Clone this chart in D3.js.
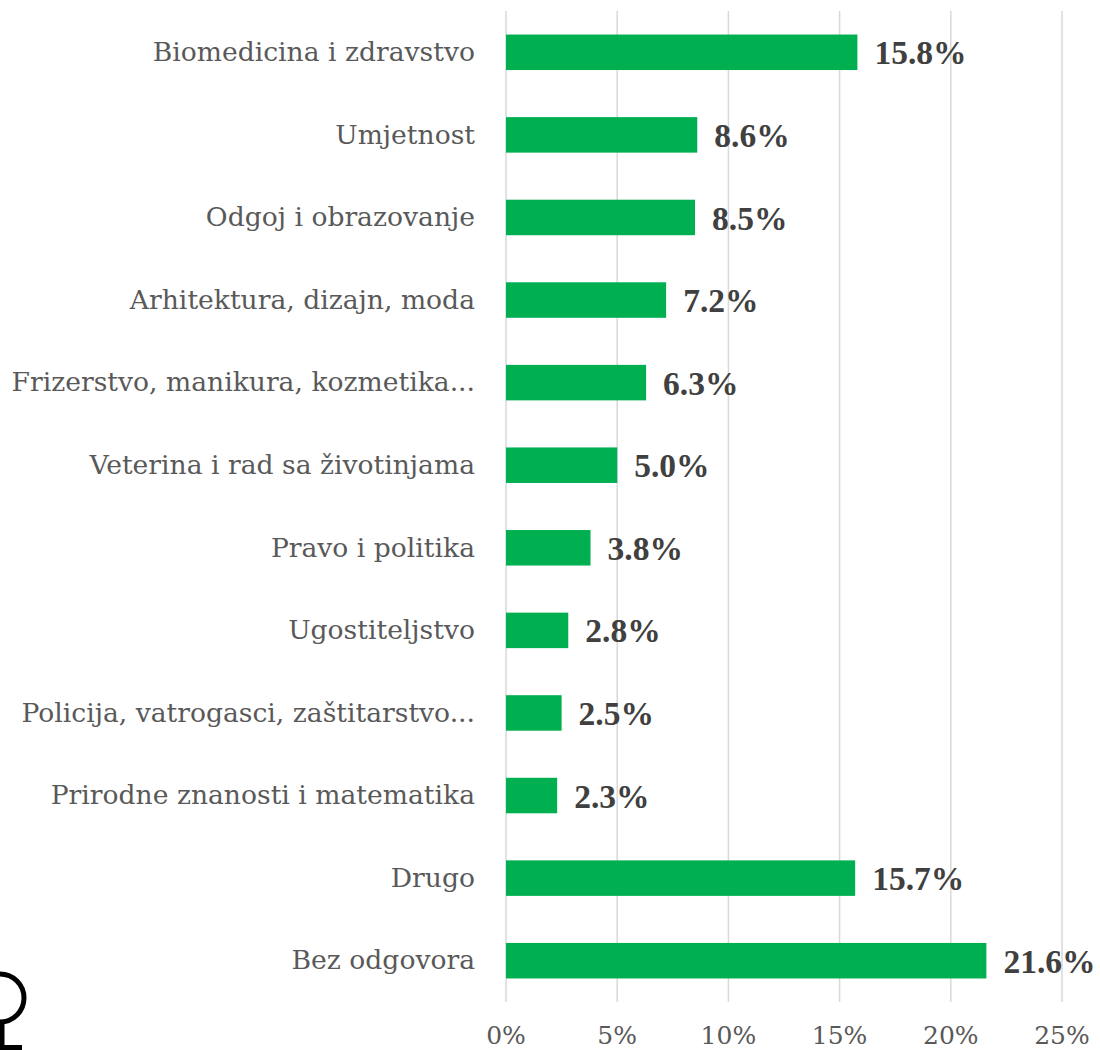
<!DOCTYPE html>
<html>
<head>
<meta charset="utf-8">
<script src="https://cdn.jsdelivr.net/npm/d3@7"></script>
<style>
  body { margin: 0; background: #fff; }
  .cat-label { font-family: "DejaVu Serif", serif; font-size: 26.6px; fill: #595959; }
  .val-label { font-family: "Liberation Serif", serif; font-size: 33.5px; font-weight: bold; fill: #404040; }
  .tick-label { font-family: "DejaVu Serif", serif; font-size: 25px; fill: #595959; }
</style>
</head>
<body>
<div class="chart"></div>
<script>
// chart data
var categories = [
  "Biomedicina i zdravstvo",
  "Umjetnost",
  "Odgoj i obrazovanje",
  "Arhitektura, dizajn, moda",
  "Frizerstvo, manikura, kozmetika...",
  "Veterina i rad sa životinjama",
  "Pravo i politika",
  "Ugostiteljstvo",
  "Policija, vatrogasci, zaštitarstvo...",
  "Prirodne znanosti i matematika",
  "Drugo",
  "Bez odgovora"
];
var values = [15.8, 8.6, 8.5, 7.2, 6.3, 5.0, 3.8, 2.8, 2.5, 2.3, 15.7, 21.6];
var tickValues = [0, 5, 10, 15, 20, 25];

var svgWidth = 1100;
var svgHeight = 1050;

var svg = d3.select(".chart")
  .append("svg")
  .attr("width", svgWidth)
  .attr("height", svgHeight);

// scales
var xScale = d3.scaleLinear().domain([0, 25]).range([506, 1062]);
var yScale = d3.scaleBand()
  .domain(categories)
  .range([11, 1002])
  .paddingInner(0.57)
  .paddingOuter(0.285);

// vertical gridlines
svg.append("g")
  .selectAll("line")
  .data(tickValues)
  .enter()
  .append("line")
  .attr("x1", function(d) { return xScale(d); })
  .attr("x2", function(d) { return xScale(d); })
  .attr("y1", 11)
  .attr("y2", 1002)
  .attr("stroke", "#d9d9d9")
  .attr("stroke-width", 1.5);

// x axis tick labels
svg.append("g")
  .selectAll("text")
  .data(tickValues)
  .enter()
  .append("text")
  .attr("class", "tick-label")
  .attr("x", function(d) { return xScale(d); })
  .attr("y", 1044)
  .attr("text-anchor", "middle")
  .text(function(d) { return d + "%"; });

// bars
svg.append("g")
  .selectAll("rect")
  .data(values)
  .enter()
  .append("rect")
  .attr("x", xScale(0))
  .attr("y", function(d, i) { return yScale(categories[i]); })
  .attr("width", function(d) { return xScale(d) - xScale(0); })
  .attr("height", yScale.bandwidth())
  .attr("fill", "#00b050");

// value labels
svg.append("g")
  .selectAll("text")
  .data(values)
  .enter()
  .append("text")
  .attr("class", "val-label")
  .attr("x", function(d) { return xScale(d) + 17; })
  .attr("y", function(d, i) { return yScale(categories[i]) + yScale.bandwidth() / 2; })
  .attr("dy", "0.36em")
  .text(function(d) { return d.toFixed(1) + "%"; });

// category labels
svg.append("g")
  .selectAll("text")
  .data(categories)
  .enter()
  .append("text")
  .attr("class", "cat-label")
  .attr("x", 475)
  .attr("y", function(d) { return yScale(d) + yScale.bandwidth() / 2; })
  .attr("dy", "0.33em")
  .attr("text-anchor", "end")
  .text(function(d) { return d; });

// cropped symbol in the bottom left corner
var mark = svg.append("g")
  .attr("fill", "none")
  .attr("stroke", "#000")
  .attr("stroke-width", 5);
mark.append("circle").attr("cx", 0).attr("cy", 998).attr("r", 24);
mark.append("line").attr("x1", 2).attr("x2", 2).attr("y1", 1022).attr("y2", 1050);
mark.append("line").attr("x1", 0).attr("x2", 22).attr("y1", 1047.5).attr("y2", 1047.5);
</script>
</body>
</html>
